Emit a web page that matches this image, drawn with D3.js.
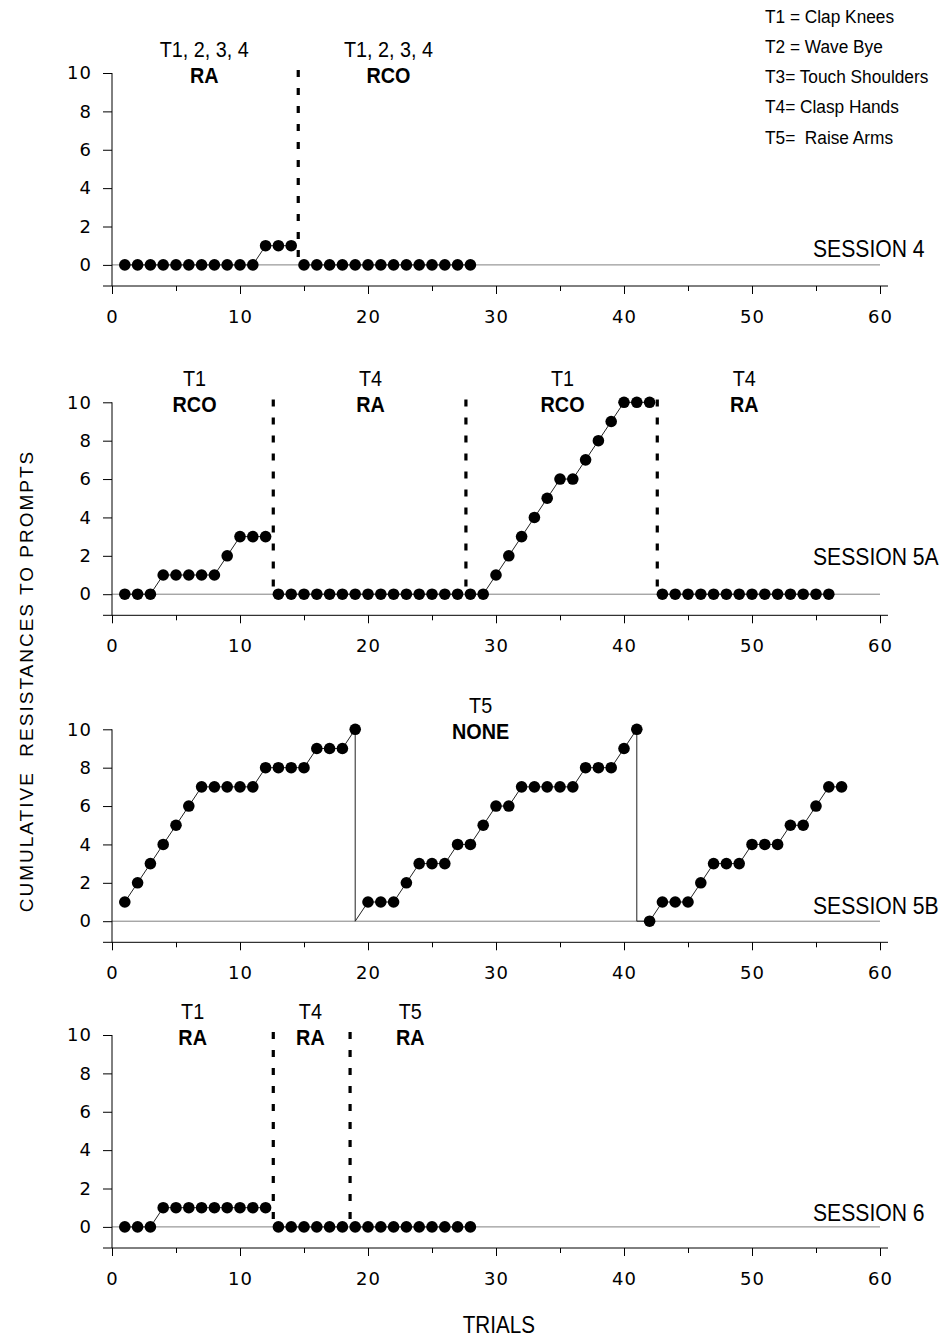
<!DOCTYPE html>
<html>
<head>
<meta charset="utf-8">
<script src="https://cdn.jsdelivr.net/npm/d3@7"></script>
<style>
  body { margin: 0; background: #fff; }
  svg { display: block; }
</style>
</head>
<body>
<svg width="943" height="1339"></svg>
<script>
// cumulative resistances per trial (index 0 = trial 1)
const s4Values = [0,0,0,0,0,0,0,0,0,0,0,1,1,1, 0,0,0,0,0,0,0,0,0,0,0,0,0,0];
const s5aValues = [0,0,0,1,1,1,1,1,2,3,3,3,
  0,0,0,0,0,0,0,0,0,0,0,0,0,0,0,0,0,
  1,2,3,4,5,6,6,7,8,9,10,10,10,
  0,0,0,0,0,0,0,0,0,0,0,0,0,0];
const s5bValues = [1,2,3,4,5,6,7,7,7,7,7,8,8,8,8,9,9,9,10,
  1,1,1,2,3,3,3,4,4,5,6,6,7,7,7,7,7,8,8,8,9,10,
  0,1,1,1,2,3,3,3,4,4,4,5,5,6,7,7];
const s6Values = [0,0,0,1,1,1,1,1,1,1,1,1, 0,0,0,0,0,0, 0,0,0,0,0,0,0,0,0,0];

// phase change lines (trial units)
const s4Breaks = [14.55];
const s5aBreaks = [12.6, 27.65, 42.6];
const s5bBreaks = [];
const s6Breaks = [12.6, 18.6];

// trials after which the cumulative record resets to zero
const s4Resets = [], s5aResets = [], s6Resets = [];
const s5bResets = [19, 41];

// phase labels: [x in trials, target line, condition]
const s4Phases = [[7.2, "T1, 2, 3, 4", "RA"], [21.6, "T1, 2, 3, 4", "RCO"]];
const s5aPhases = [[6.45, "T1", "RCO"], [20.2, "T4", "RA"], [35.2, "T1", "RCO"], [49.4, "T4", "RA"]];
const s5bPhases = [[28.8, "T5", "NONE"]];
const s6Phases = [[6.3, "T1", "RA"], [15.5, "T4", "RA"], [23.3, "T5", "RA"]];

const sessionNames = ["SESSION 4", "SESSION 5A", "SESSION 5B", "SESSION 6"];
const sessionLabelY = [0.4, 1.53, 0.39, 0.3];

const legendLines = ["T1 = Clap Knees", "T2 = Wave Bye", "T3= Touch Shoulders", "T4= Clasp Hands", "T5=  Raise Arms"];

const yTicks = [0, 2, 4, 6, 8, 10];
const xMajor = [0, 10, 20, 30, 40, 50, 60];
const xMinor = [5, 15, 25, 35, 45, 55];

const sessions = [
  { values: s4Values, breaks: s4Breaks, resets: s4Resets, phases: s4Phases },
  { values: s5aValues, breaks: s5aBreaks, resets: s5aResets, phases: s5aPhases },
  { values: s5bValues, breaks: s5bBreaks, resets: s5bResets, phases: s5bPhases },
  { values: s6Values, breaks: s6Breaks, resets: s6Resets, phases: s6Phases }
];

const panelTops = [73, 402.3, 729.3, 1035];
const panelHeight = 213;
const sans = "'Liberation Sans', Arial, Helvetica, sans-serif";

const svg = d3.select("svg");

const x = d3.scaleLinear().domain([0, 60]).range([112, 880]);

function label(g, px, py, text, size, k, opts = {}) {
  return g.append("text")
    .attr("transform", `translate(${px},${py}) scale(${k},1)`)
    .attr("font-family", sans)
    .attr("font-size", size)
    .attr("font-weight", opts.bold ? "bold" : "normal")
    .attr("text-anchor", opts.anchor || "middle")
    .style("white-space", "pre")
    .text(text);
}

sessions.forEach((s, i) => {
  const top = panelTops[i];
  const y = d3.scaleLinear().domain([-1.1, 10]).range([top + panelHeight, top]);
  const g = svg.append("g");

  // zero reference line
  g.append("line")
    .attr("x1", x(0)).attr("x2", x(60))
    .attr("y1", y(0)).attr("y2", y(0))
    .attr("stroke", "#808080").attr("stroke-width", 1);

  // x axis
  const gMinor = g.append("g").attr("transform", `translate(0,${y(-1.1)})`)
    .call(d3.axisBottom(x).tickValues(xMinor).tickSize(5).tickFormat(""));
  const gMajor = g.append("g").attr("transform", `translate(0,${y(-1.1)})`)
    .call(d3.axisBottom(x).tickValues(xMajor).tickSize(8).tickPadding(16));
  gMinor.select(".domain").remove();
  gMajor.select(".domain").remove();
  g.append("line")
    .attr("x1", x(0) - 9).attr("x2", x(60) + 8)
    .attr("y1", y(-1.1)).attr("y2", y(-1.1))
    .attr("stroke", "#000");

  // y axis
  const gy = g.append("g").attr("transform", `translate(${x(0)},0)`)
    .call(d3.axisLeft(y).tickValues(yTicks).tickSize(9).tickPadding(11));
  gy.select(".domain").remove();
  g.append("line")
    .attr("x1", x(0)).attr("x2", x(0))
    .attr("y1", y(10)).attr("y2", y(-1.1))
    .attr("stroke", "#000");

  g.selectAll(".tick text")
    .attr("font-family", "'DejaVu Sans', Verdana, sans-serif")
    .attr("font-size", 18)
    .attr("letter-spacing", 1)
    .attr("fill", "#000");

  // data
  const pts = s.values.map((v, j) => ({ t: j + 1, v }));
  const segments = [];
  let cur = [];
  pts.forEach((p, j) => {
    if (j > 0 && s.breaks.some(b => b > pts[j - 1].t && b < p.t)) {
      segments.push(cur);
      cur = [];
    }
    cur.push(p);
    if (s.resets.includes(p.t)) cur.push({ t: p.t, v: 0 });
  });
  segments.push(cur);

  const line = d3.line().x(d => x(d.t)).y(d => y(d.v));
  g.selectAll(".seg").data(segments).join("path")
    .attr("class", "seg")
    .attr("d", line)
    .attr("fill", "none")
    .attr("stroke", "#222")
    .attr("stroke-width", 1);

  // phase change lines
  g.selectAll(".brk").data(s.breaks).join("line")
    .attr("class", "brk")
    .attr("x1", d => x(d)).attr("x2", d => x(d))
    .attr("y1", y(10.15)).attr("y2", y(0))
    .attr("stroke", "#000")
    .attr("stroke-width", 3.2)
    .attr("stroke-dasharray", "7,11");

  g.selectAll(".dot").data(pts).join("circle")
    .attr("class", "dot")
    .attr("cx", d => x(d.t))
    .attr("cy", d => y(d.v))
    .attr("r", 5.8)
    .attr("fill", "#000");

  // phase labels
  s.phases.forEach(([px, tl, cond]) => {
    label(g, x(px), y(10) - 16, tl, 22, 0.9);
    label(g, x(px), y(10) + 10, cond, 22, 0.9, { bold: true });
  });

  label(g, 813, y(sessionLabelY[i]), sessionNames[i], 23, 0.92, { anchor: "start" });
});

// legend
legendLines.forEach((t, i) => {
  label(svg, 765, 22.5 + 30.3 * i, t, 18, 0.96, { anchor: "start" });
});

// axis titles
label(svg, 498.8, 1333, "TRIALS", 24, 0.86);

svg.append("text")
  .attr("transform", "translate(33,681) rotate(-90)")
  .attr("font-family", sans)
  .attr("font-size", 19)
  .attr("letter-spacing", 2)
  .attr("text-anchor", "middle")
  .style("white-space", "pre")
  .text("CUMULATIVE  RESISTANCES TO PROMPTS");
</script>
</body>
</html>
